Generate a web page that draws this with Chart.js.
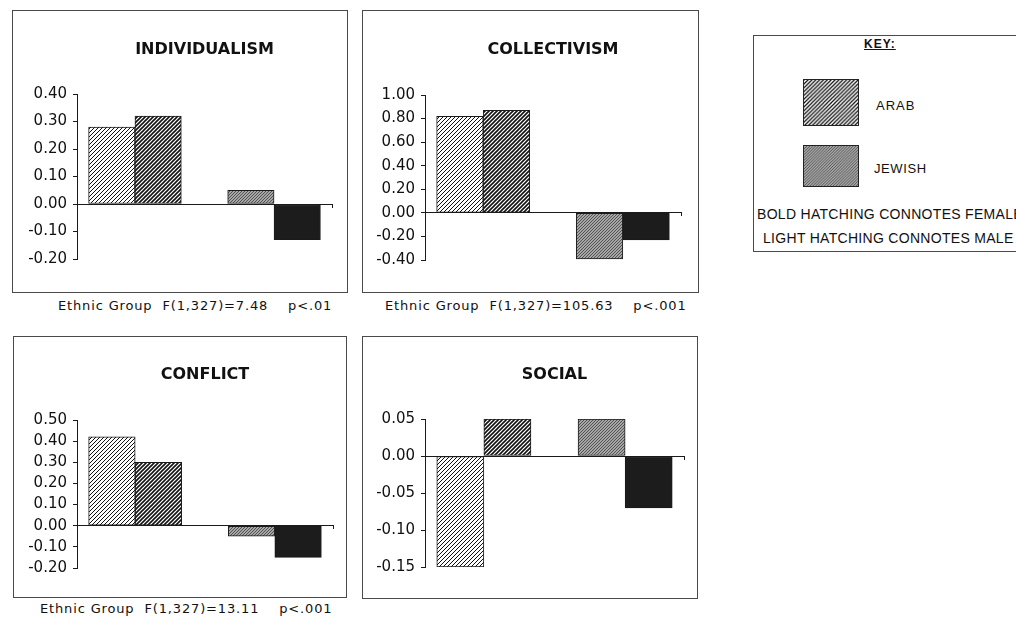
<!DOCTYPE html>
<html>
<head>
<meta charset="utf-8">
<script src="https://cdn.jsdelivr.net/npm/chart.js@4.4.1/dist/chart.umd.min.js"></script>
<style>
  html, body { margin: 0; padding: 0; background: #fff; }
  body { width: 1016px; height: 619px; position: relative; overflow: hidden; color: #111; font-family: "DejaVu Sans", sans-serif; }
  .box { position: absolute; border: 1px solid #4a4a4a; box-sizing: border-box; }
  .plot { position: absolute; }
  .caption { position: absolute; font-size: 13px; letter-spacing: 0.85px; white-space: pre; line-height: 16px; margin-top: -8px; }
  .key { position: absolute; left: 753px; top: 35px; width: 290px; height: 217px; border: 1px solid #4a4a4a; box-sizing: border-box; }
  .key-text { position: absolute; font-family: "Liberation Sans", Arial, sans-serif; white-space: pre; line-height: 16px; margin-top: -8px; }
  .key-head { font-weight: bold; font-size: 12px; letter-spacing: 1px; text-decoration: underline; }
  .swatch { position: absolute; border: 1px solid #222; box-sizing: border-box; }
</style>
</head>
<body>
<div class="key" id="key"></div>
<script>
// Mean scores by ethnic group and sex
const groups = ['Arab male', 'Arab female', 'Jewish male', 'Jewish female'];
const titles = ['INDIVIDUALISM', 'COLLECTIVISM', 'CONFLICT', 'SOCIAL'];

const individualism = [0.28, 0.32, 0.05, -0.13];
const collectivism  = [0.82, 0.87, -0.39, -0.23];
const conflict      = [0.42, 0.30, -0.05, -0.15];
const social        = [-0.15, 0.05, 0.05, -0.07];

const individualismTicks = [-0.20, -0.10, 0.00, 0.10, 0.20, 0.30, 0.40];
const collectivismTicks  = [-0.40, -0.20, 0.00, 0.20, 0.40, 0.60, 0.80, 1.00];
const conflictTicks      = [-0.20, -0.10, 0.00, 0.10, 0.20, 0.30, 0.40, 0.50];
const socialTicks        = [-0.15, -0.10, -0.05, 0.00, 0.05];

const captions = [
  'Ethnic Group  F(1,327)=7.48    p<.01',
  'Ethnic Group  F(1,327)=105.63    p<.001',
  'Ethnic Group  F(1,327)=13.11    p<.001',
  ''
];

// Page layout of the four panels: outer box, plot area, title line and caption anchor
const panelLayout = [
  { box: [12, 10, 348, 293],  plot: [77, 94, 332, 259],  titleY: 50,  cap: [58, 306] },
  { box: [362, 10, 699, 293], plot: [425, 95, 681, 260], titleY: 50,  cap: [385, 306] },
  { box: [13, 336, 347, 598], plot: [77, 420, 333, 568], titleY: 375, cap: [40, 609] },
  { box: [362, 336, 698, 599], plot: [425, 419, 684, 567], titleY: 375, cap: [0, 0] }
];

// Fill patterns: diagonal hatching for Arab bars, grey stipple/black for Jewish bars
function hatch(size, lw, fg, bg) {
  const c = document.createElement('canvas');
  c.width = c.height = size;
  const g = c.getContext('2d');
  g.fillStyle = bg; g.fillRect(0, 0, size, size);
  g.strokeStyle = fg; g.lineWidth = lw;
  g.beginPath();
  g.moveTo(0, size); g.lineTo(size, 0);
  g.moveTo(-size / 2, size / 2); g.lineTo(size / 2, -size / 2);
  g.moveTo(size / 2, size * 1.5); g.lineTo(size * 1.5, size / 2);
  g.stroke();
  return g.createPattern(c, 'repeat');
}
const fills = [
  hatch(4, 1.0, '#111', '#fff'),
  hatch(4, 1.6, '#111', '#fff'),
  hatch(3, 0.9, '#4a4a4a', '#a6a6a6'),
  '#1c1c1c'
];

// Slot on the x axis: a blank slot separates the two ethnic groups
const slotOf = i => i + (i >= 2 ? 1 : 0);
const fmt = v => (Math.abs(v) < 1e-9 ? 0 : v).toFixed(2);

function makePanel(layout, title, values, ticks, caption) {
  const [bl, bt, br, bb] = layout.box;
  const [pl, pt, pr, pb] = layout.plot;
  const w = br - bl, h = bb - bt;

  const box = document.createElement('div');
  box.className = 'box';
  Object.assign(box.style, { left: bl + 'px', top: bt + 'px', width: w + 'px', height: h + 'px' });
  document.body.appendChild(box);

  const canvas = document.createElement('canvas');
  canvas.className = 'plot';
  canvas.width = w; canvas.height = h;
  Object.assign(canvas.style, { left: bl + 'px', top: bt + 'px', width: w + 'px', height: h + 'px' });
  document.body.appendChild(canvas);

  const titleSize = 16, titleLine = titleSize * 1.2;
  const titlePadTop = layout.titleY - bt - titleLine / 2;
  const titlePadBottom = (pt - bt) - titlePadTop - titleLine;
  const lo = ticks[0], hi = ticks[ticks.length - 1];

  new Chart(canvas, {
    type: 'bar',
    data: {
      datasets: [{
        label: title,
        data: values.map((v, i) => ({ x: slotOf(i), y: v })),
        backgroundColor: fills,
        borderColor: '#1a1a1a',
        borderWidth: 1,
        borderSkipped: false,
        barPercentage: 1,
        categoryPercentage: 1
      }]
    },
    options: {
      responsive: false,
      animation: false,
      devicePixelRatio: 1,
      layout: { padding: { left: 0, top: 0, right: br - pr, bottom: bb - pb } },
      plugins: {
        legend: { display: false },
        tooltip: { enabled: false },
        title: {
          display: true,
          fullSize: false,
          text: title,
          color: '#111',
          font: { family: 'DejaVu Sans', size: titleSize, weight: 'bold', lineHeight: 1.2 },
          padding: { top: titlePadTop, bottom: titlePadBottom }
        }
      },
      scales: {
        x: {
          type: 'linear',
          min: -0.75,
          max: 4.75,
          offset: false,
          position: { y: 0 },
          ticks: { display: false },
          grid: { offset: false, drawOnChartArea: false, drawTicks: true, tickLength: 3, color: '#1a1a1a' },
          border: { display: true, color: '#1a1a1a', width: 1 },
          afterBuildTicks: s => { s.ticks = [{ value: 4.75 }]; }
        },
        y: {
          min: lo,
          max: hi,
          afterBuildTicks: s => { s.ticks = ticks.map(v => ({ value: v })); },
          afterFit: s => { s.width = pl - bl; },
          ticks: {
            callback: v => fmt(v),
            color: '#111',
            padding: 6,
            font: { family: 'DejaVu Sans', size: 15 }
          },
          grid: { drawOnChartArea: false, drawTicks: true, tickLength: 4, color: '#1a1a1a' },
          border: { display: true, color: '#1a1a1a', width: 1 }
        }
      }
    }
  });

  if (caption) {
    const cap = document.createElement('div');
    cap.className = 'caption';
    cap.textContent = caption;
    cap.style.left = layout.cap[0] + 'px';
    cap.style.top = layout.cap[1] + 'px';
    document.body.appendChild(cap);
  }
}

const series = [individualism, collectivism, conflict, social];
const tickSets = [individualismTicks, collectivismTicks, conflictTicks, socialTicks];
series.forEach((vals, i) => makePanel(panelLayout[i], titles[i], vals, tickSets[i], captions[i]));

// Key box
const key = document.getElementById('key');
const kx = 753, ky = 35;
function keyText(txt, x, y, size, cls) {
  const d = document.createElement('div');
  d.className = 'key-text' + (cls ? ' ' + cls : '');
  d.textContent = txt;
  d.style.left = (x - kx) + 'px';
  d.style.top = (y - ky) + 'px';
  if (size) d.style.fontSize = size + 'px';
  key.appendChild(d);
  return d;
}
function swatch(x, y, w, h, fill) {
  const c = document.createElement('canvas');
  c.className = 'swatch';
  c.width = w; c.height = h;
  Object.assign(c.style, { left: (x - kx) + 'px', top: (y - ky) + 'px', width: w + 'px', height: h + 'px' });
  const g = c.getContext('2d');
  g.fillStyle = fill; g.fillRect(0, 0, w, h);
  key.appendChild(c);
}
const head = keyText('KEY:', 0, 43, 0, 'key-head');
head.style.left = (863 - kx) + 'px';
swatch(802, 78, 56, 47, hatch(4, 1.3, '#111', '#fff'));
keyText('ARAB', 875, 105, 13).style.letterSpacing = '1px';
swatch(802, 144, 56, 42, hatch(3, 0.9, '#4a4a4a', '#a6a6a6'));
keyText('JEWISH', 873, 168, 13).style.letterSpacing = '0.6px';
keyText('BOLD HATCHING CONNOTES FEMALE', 756, 213, 14).style.letterSpacing = '0.3px';
keyText('LIGHT HATCHING CONNOTES MALE', 762, 237, 14).style.letterSpacing = '0.3px';
</script>
</body>
</html>
